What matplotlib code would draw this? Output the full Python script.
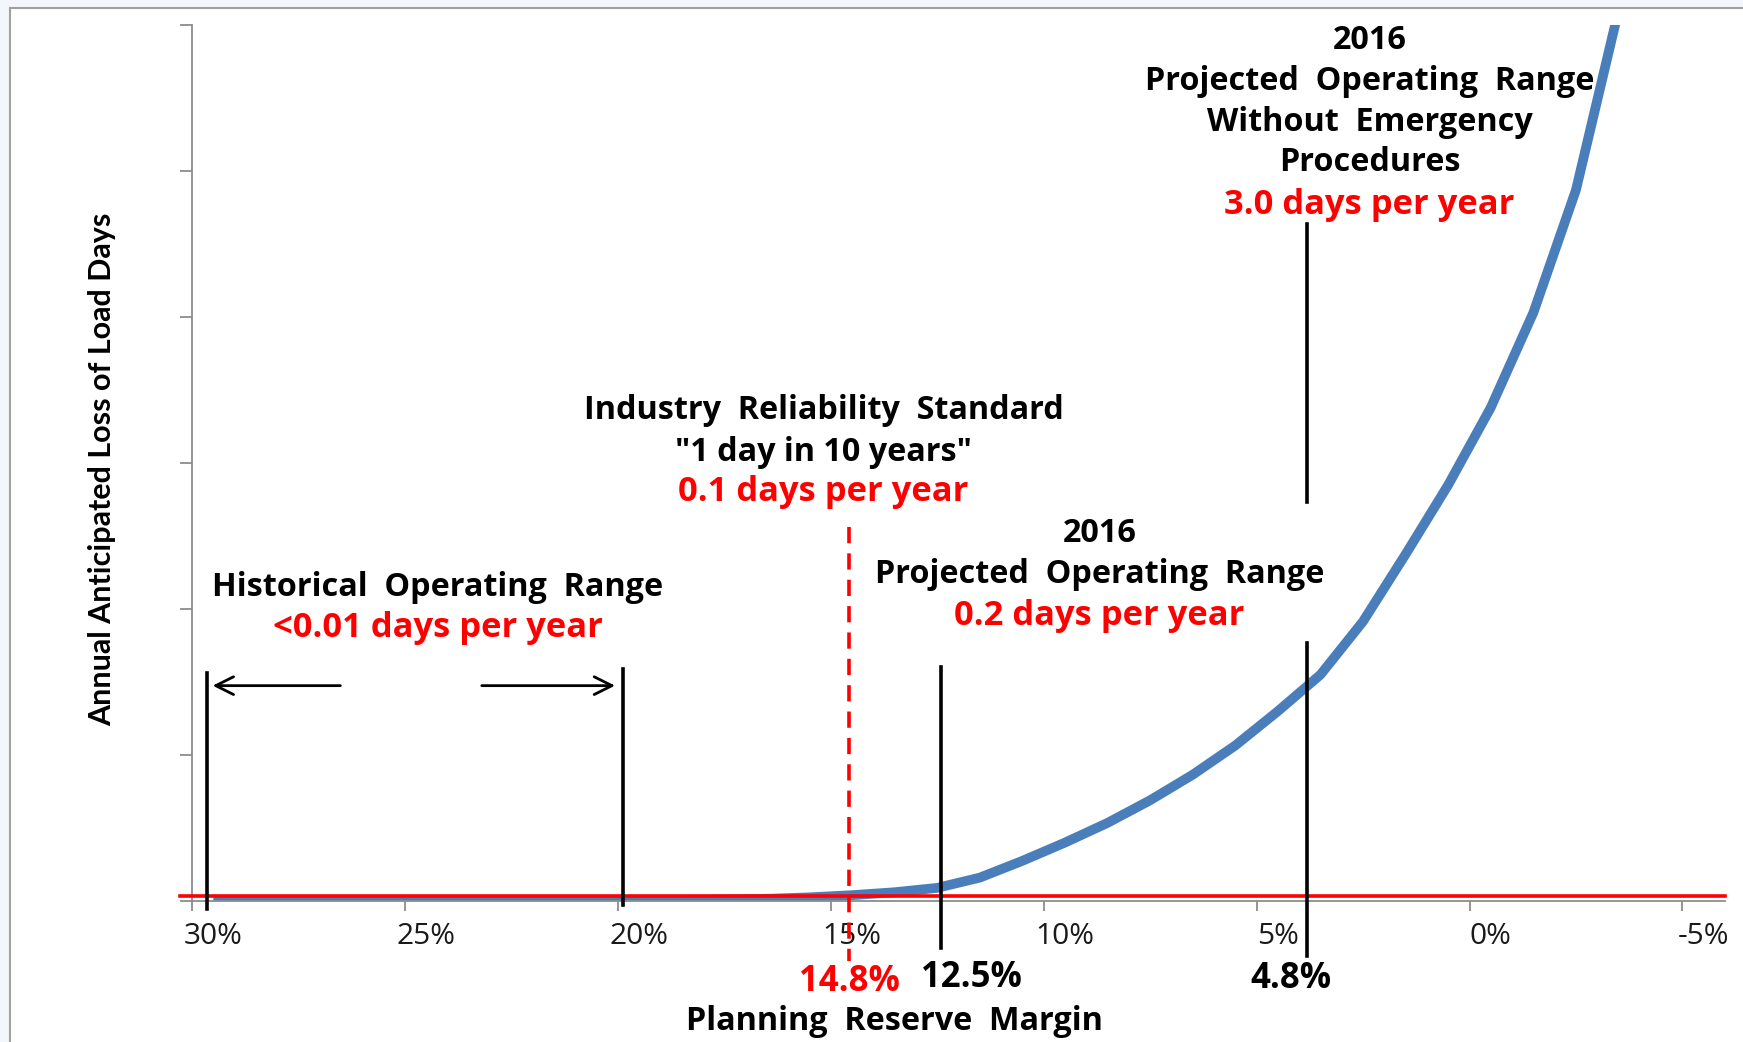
import matplotlib.pyplot as plt
from matplotlib.patches import Rectangle

# Loss-of-load curve: planning reserve margin (%) vs anticipated LOL days per year
margin_pct = [30, 29, 28, 27, 26, 25, 24, 23, 22, 21, 20, 19, 18, 17, 16, 15, 14,
              13, 12, 11, 10, 9, 8, 7, 6, 5, 4, 3, 2, 1, 0, -1, -2, -3]
lol_days = [0.0, 0.0, 0.0, 0.0, 0.0, 0.0, 0.001, 0.002, 0.004, 0.006, 0.01, 0.015,
            0.02, 0.03, 0.05, 0.08, 0.12, 0.18, 0.32, 0.55, 0.8, 1.07, 1.38, 1.73,
            2.13, 2.6, 3.1, 3.83, 4.75, 5.7, 6.76, 8.06, 9.74, 12.2]

tick_pct = [30, 25, 20, 15, 10, 5, 0, -5]
tick_labels = ["30%", "25%", "20%", "15%", "10%", "5%", "0%", "-5%"]

standard_days = 0.07  # red "1 day in 10 years" level line

# hand drawn range markers (position)
hist_range = [30.15, 20.39]
standard_margin = 15.07
proj_margin = 12.92
proj_no_emerg_margin = 4.31

blue = "#4a7ebb"
red = "#ff0000"
grey = "#8c8c8c"
font = "Open Sans"

fig = plt.figure(figsize=(17.43, 10.42), dpi=100)
fig.patch.set_facecolor("#f3f6fa")
fig.patches.append(Rectangle((10 / 1743, -0.01), 1.0, 1 - 8 / 1042 + 0.01,
                             transform=fig.transFigure, facecolor="white",
                             edgecolor="#a0a0a0", linewidth=1.5, zorder=-10))

ax = fig.add_axes([192 / 1743, 1 - 901 / 1042, (1725 - 192) / 1743, (901 - 25) / 1042])
ax.set_facecolor("none")
ax.set_zorder(1)

ax.plot(margin_pct, lol_days, color=blue, linewidth=7, solid_capstyle="butt", zorder=2)
ax.plot([30.78, -5.5], [standard_days, standard_days], color=red, linewidth=2.6,
        clip_on=False, zorder=3)

ax.set_xlim(30.5, -5.5)
ax.set_ylim(0, 12)

# ticks: marks on category boundaries, labels on category centres
ax.set_xticks([p + 0.5 for p in tick_pct])
ax.set_xticklabels([])
ax.set_xticks(tick_pct, minor=True)
ax.set_xticklabels(tick_labels, minor=True, fontsize=21.5, fontfamily=font,
                   color="#1a1a1a")
ax.tick_params(axis="x", which="major", length=7, width=1.3, color=grey, direction="out")
ax.tick_params(axis="x", which="minor", length=0, pad=15)
ax.set_yticks(range(0, 13, 2))
ax.set_yticklabels([])
ax.tick_params(axis="y", length=8.5, width=1.3, color=grey, direction="out")
for s in ["top", "right"]:
    ax.spines[s].set_visible(False)
for s in ["left", "bottom"]:
    ax.spines[s].set_color(grey)
    ax.spines[s].set_linewidth(1.3)

# vertical markers
lw = 2.6
ax.plot([hist_range[0]] * 2, [3.13, -0.11], color="black", lw=lw, clip_on=False, zorder=4)
ax.plot([hist_range[1]] * 2, [3.18, -0.06], color="black", lw=lw, clip_on=False, zorder=4)
ax.plot([proj_margin] * 2, [3.21, -0.64], color="black", lw=lw, clip_on=False, zorder=4)
ax.plot([proj_no_emerg_margin] * 2, [9.28, 5.47], color="black", lw=lw, clip_on=False, zorder=4)
ax.plot([proj_no_emerg_margin] * 2, [3.53, -0.75], color="black", lw=lw, clip_on=False, zorder=4)
ax.plot([standard_margin] * 2, [5.13, -0.82], color=red, lw=2.6, dashes=(4.5, 2.8),
        clip_on=False, zorder=4)

# arrows for historical range
arrow = dict(arrowstyle="->", color="black", lw=2, mutation_scale=32)
ax.annotate("", xy=(30.08, 2.95), xytext=(26.95, 2.95), arrowprops=arrow)
ax.annotate("", xy=(20.50, 2.95), xytext=(23.76, 2.95), arrowprops=arrow)

bold = dict(fontsize=23.3, fontweight="bold", fontfamily=font, ha="center", va="center")
rbold = dict(bold, fontsize=24.8, color=red)

ax.text(24.73, 4.29, "Historical  Operating  Range", color="black", **bold)
ax.text(24.73, 3.74, "<0.01 days per year", **rbold)

ax.text(15.67, 6.72, "Industry  Reliability  Standard", color="black", **bold)
ax.text(15.67, 6.15, "\"1 day in 10 years\"", color="black", **bold)
ax.text(15.67, 5.60, "0.1 days per year", **rbold)

ax.text(9.19, 5.04, "2016", color="black", **bold)
ax.text(9.19, 4.47, "Projected  Operating  Range", color="black", **bold)
ax.text(9.19, 3.91, "0.2 days per year", **rbold)

ax.text(2.85, 11.79, "2016", color="black", **bold)
ax.text(2.85, 11.22, "Projected  Operating  Range", color="black", **bold)
ax.text(2.85, 10.66, "Without  Emergency", color="black", **bold)
ax.text(2.85, 10.11, "Procedures", color="black", **bold)
ax.text(2.85, 9.54, "3.0 days per year", **rbold)

big = dict(bold, fontsize=25)
ax.text(15.07, -1.11, "14.8%", color=red, clip_on=False, **big)
ax.text(12.19, -1.05, "12.5%", color="black", clip_on=False, **big)
ax.text(4.70, -1.07, "4.8%", color="black", clip_on=False, **big)
ax.text(14.0, -1.65, "Planning  Reserve  Margin", color="black", clip_on=False, **bold)

fig.text(102 / 1743, 1 - 469 / 1042, "Annual Anticipated Loss of Load Days", rotation=90,
         fontsize=22, fontweight="bold", fontfamily="Lato", ha="center", va="center")

fig.savefig("out.png", dpi=100, facecolor=fig.get_facecolor())
